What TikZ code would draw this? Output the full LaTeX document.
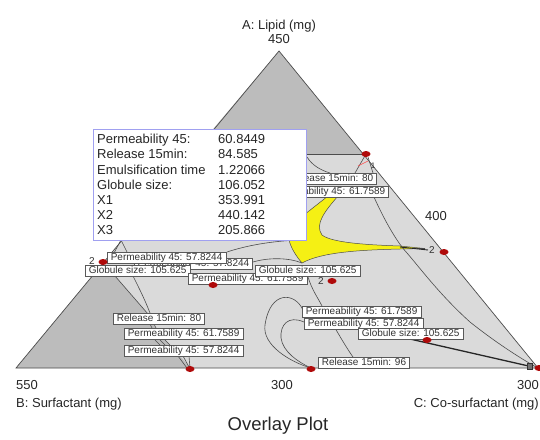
\documentclass[tikz,border=0pt]{standalone}
\usepackage{fontspec}
\setmainfont{Liberation Sans}
\definecolor{lightg}{RGB}{218,218,218}
\definecolor{darkg}{RGB}{188,188,188}
\definecolor{boxblue}{RGB}{160,160,240}
\definecolor{ylw}{RGB}{245,240,20}
\definecolor{dotred}{RGB}{175,10,10}
\begin{document}
\begin{tikzpicture}[x=1pt,y=-1pt,
 lbl/.style={draw=black!65, fill=white, line width=0.6pt, font=\fontsize{10}{11}\selectfont, text=black!80, inner xsep=3.5pt, inner ysep=1pt, text height=7.2pt, text depth=2pt},
 ax/.style={font=\fontsize{13}{15}\selectfont, text=black!85, inner sep=0pt},
 dat/.style={font=\fontsize{13}{15}\selectfont, text=black!85, inner sep=0pt, anchor=base west},
 cont/.style={draw=black!70, line width=0.6pt},
 dotm/.style={fill=dotred, draw=none},
 mk/.style={font=\fontsize{10}{11}\selectfont, text=black!80, inner sep=0pt}
]
\useasboundingbox (0,0) rectangle (540,439);
\coordinate (A) at (279,51);
\coordinate (B) at (16,368);
\coordinate (C) at (538,368);
% regions
\fill[lightg] (A) -- (B) -- (C) -- cycle;
\fill[darkg] (A) -- (363,154) -- (192,154) -- cycle;
\fill[darkg] (B) -- (190,368) .. controls (178,352) and (158,336) .. (148,314) -- (115,276) -- (100.6,266) -- cycle;
\fill[ylw, draw=black!70, line width=0.5pt] (338,196) .. controls (326,210) and (314,224) .. (322,235) .. controls (332,243) and (370,245) .. (400,246) -- (425,248.5) -- (400,249) .. controls (360,250) and (322,252) .. (302,263) .. controls (296,256) and (291,248) .. (289,240) -- (295,222) -- (328,196) -- cycle;
% contours
\draw[cont] (307,154) -- (363,154);
\draw[cont] (307,157) .. controls (312,165) and (320,170) .. (330,173);
\draw[cont] (366,154) -- (355,173);
\draw[cont] (368,157) -- (373,173);
\draw[red!70, line width=0.5pt] (358,166) -- (368,161);
\draw[cont] (374,197) .. controls (382,215) and (395,240) .. (407,253) .. controls (420,268) and (440,295) .. (470,322) .. controls (495,342) and (520,358) .. (536,367);
\draw[black!85, line width=0.9pt] (400,247) -- (428,250);
\draw[cont] (121,240) -- (114,253);
\draw[cont] (121,240) -- (128,254);
\draw[cont] (115,276) -- (148,314);
\draw[cont] (133,276) .. controls (140,290) and (145,300) .. (150,313);
\draw[cont] (150,324) -- (152,328) (154,324) -- (156,328);
\draw[cont] (155,340) -- (160,345) (160,340) -- (165,345) (165,340) -- (170,345);
\draw[cont] (178,356) -- (187,368) (183,356) -- (189,367) (189,356) -- (190,368);
\draw[cont] (227,252) .. controls (245,246) and (270,241) .. (300,240);
\draw[cont] (253,262) .. controls (270,257) and (290,258) .. (302,263);
\draw[cont] (308,277) .. controls (312,290) and (318,298) .. (322,306);
\draw[cont] (303,310) .. controls (295,292) and (270,290) .. (265,325) .. controls (262,345) and (290,362) .. (311,368);
\draw[cont] (304,322) .. controls (288,315) and (280,325) .. (281,338) .. controls (283,352) and (298,362) .. (311,368);
\draw[cont] (335,328) .. controls (342,340) and (348,350) .. (353,357);
\draw[black!90, line width=2pt] (343,367.5) -- (378,367.5);
\draw[black!85, line width=1.3pt] (410,339) -- (533,367);
% triangle outline
\draw[black!70, line width=0.7pt] (A) -- (B) -- (C) -- cycle;
% labels behind the data box
\node[lbl, anchor=north east] (rt) at (377,173) {Release 15min: 80};
\node[lbl, anchor=north east] (pt) at (389,186) {Permeability 45: 61.7589};
% data box
\node[draw=boxblue, fill=white, line width=0.9pt, minimum width=213pt, minimum height=111pt, anchor=north west, inner sep=0pt] (box) at (93,129) {};
\node[dat] (d1) at (97,143) {Permeability 45:};
\node[dat] (d2) at (97,158) {Release 15min:};
\node[dat] (d3) at (97,174) {Emulsification time};
\node[dat] (d4) at (97,189) {Globule size:};
\node[dat] (d5) at (97,204.5) {X1};
\node[dat] (d6) at (97,219.5) {X2};
\node[dat] (d7) at (97,234.5) {X3};
\node[dat] (v1) at (218,143) {60.8449};
\node[dat] (v2) at (218,158) {84.585};
\node[dat] (v3) at (218,174) {1.22066};
\node[dat] (v4) at (218,189) {106.052};
\node[dat] (v5) at (218,204.5) {353.991};
\node[dat] (v6) at (218,219.5) {440.142};
\node[dat] (v7) at (218,234.5) {205.866};
% other labels
\node[lbl, anchor=north east] (p2) at (253,258) {Permeability 45: 57.8244};
\node[lbl, anchor=north west] (p1) at (107,252) {Permeability 45: 57.8244};
\node[lbl, anchor=north west] (g1) at (85,265) {Globule size: 105.625};
\node[lbl, anchor=north west] (pc) at (188,273) {Permeability 45: 61.7589};
\node[lbl, anchor=north west] (gc) at (255,265) {Globule size: 105.625};
\node[lbl, anchor=north west] (rl) at (113,313) {Release 15min: 80};
\node[lbl, anchor=north west] (pl1) at (124,328) {Permeability 45: 61.7589};
\node[lbl, anchor=north west] (pl2) at (124,345) {Permeability 45: 57.8244};
\node[lbl, anchor=north west] (pr1) at (302,306) {Permeability 45: 61.7589};
\node[lbl, anchor=north west] (pr2) at (304,318) {Permeability 45: 57.8244};
\node[lbl, anchor=north west] (gr) at (358,328) {Globule size: 105.625};
\node[lbl, anchor=north west] (rr) at (318,357) {Release 15min: 96};
% markers
\node[mk] (m1) at (92,261) {2};
\node[mk] (m2) at (321,281) {2};
\node[mk] (m3) at (432,250) {2};
\node[mk, font=\fontsize{8}{9}\selectfont] (m4) at (373,166) {1};
\draw[fill=black!55, draw=black!80, line width=0.4pt] (527,363) rectangle (532,369);
% dots
\foreach \p in {(366,154),(444,252),(103,262),(213,285),(332,281),(190,369),(311,369),(427,340),(539,368)}
  \fill[dotm] \p ellipse [x radius=4.5pt, y radius=3pt];
% axis texts
\node[ax, anchor=base] (ta) at (279,29.4) {A: Lipid (mg)};
\node[ax, anchor=base] (ta2) at (279,43.5) {450};
\node[ax, anchor=base west] (tb) at (16,389.6) {550};
\node[ax, anchor=base west] (tb2) at (16,407.6) {B: Surfactant (mg)};
\node[ax, anchor=base] (tm) at (282,389.6) {300};
\node[ax, anchor=base east] (tc) at (539,389.6) {300};
\node[ax, anchor=base east] (tc2) at (539,407.6) {C: Co-surfactant (mg)};
\node[ax, anchor=base] (t400) at (436,220.6) {400};
\node[ax, anchor=base, font=\fontsize{18.5}{20}\selectfont] (title) at (278,430) {Overlay Plot};
\end{tikzpicture}
\end{document}
